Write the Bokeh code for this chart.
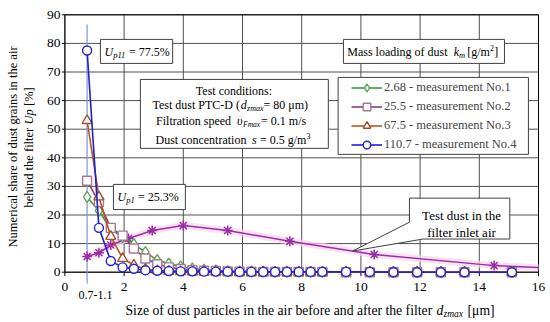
import math
from bokeh.plotting import figure
from bokeh.models import Range1d, Label, BoxAnnotation, Legend, LegendItem
from bokeh.core.properties import value
from bokeh.embed import file_html
from bokeh.resources import INLINE

# ---------------- data ----------------
size_um = [0.75, 1.15, 1.55, 1.95, 2.33, 2.72, 3.12, 3.51, 3.91, 4.31, 4.7, 5.1,
           5.5, 5.9, 6.3, 6.7, 7.1, 7.5, 7.9, 8.3, 8.7, 9.5, 10.3, 11.1, 11.9,
           12.7, 13.5, 15.1]
meas1 = [26.3, 21.5, 15.0, 12.3, 9.8, 7.0, 4.2, 3.0, 2.0, 1.3, 0.9, 0.6, 0.4,
         0.3, 0.2, 0.2, 0.1, 0.1, 0.1, 0.1, 0.1, 0.1, 0.0, 0.0, 0.0, 0.0, 0.0, 0.0]
meas2 = [32.0, 24.5, 15.5, 12.8, 8.3, 4.8, 2.8, 1.7, 1.1, 0.7, 0.5, 0.4, 0.3,
         0.2, 0.2, 0.1, 0.1, 0.1, 0.1, 0.1, 0.1, 0.0, 0.0, 0.0, 0.0, 0.0, 0.0, 0.0]
meas3 = [53.0, 26.3, 12.5, 4.8, 2.5, 1.0, 0.5, 0.3, 0.2, 0.1, 0.1, 0.1, 0.0,
         0.0, 0.0, 0.0, 0.0, 0.0, 0.0, 0.0, 0.0, 0.0, 0.0, 0.0, 0.0, 0.0, 0.0, 0.0]
meas4 = [77.5, 15.5, 3.9, 1.7, 1.2, 0.7, 0.5, 0.4, 0.3, 0.3, 0.2, 0.2, 0.2,
         0.1, 0.1, 0.1, 0.1, 0.1, 0.1, 0.1, 0.1, 0.1, 0.1, 0.0, 0.0, 0.0, 0.0, 0.0]
test_dust_x = [0.75, 1.15, 1.55, 2.15, 2.95, 4.0, 5.5, 7.6, 10.45, 14.5, 16.0]
test_dust_y = [5.5, 6.8, 9.5, 11.8, 14.6, 16.3, 14.6, 10.8, 6.2, 2.3, 1.6]
series_labels = ["2.68 - measurement No.1", "25.5 - measurement No.2",
                 "67.5 - measurement No.3", "110.7 - measurement No.4"]
x_ticks = [0, 2, 4, 6, 8, 10, 12, 14, 16]
y_ticks = [0, 10, 20, 30, 40, 50, 60, 70, 80, 90]
x_tick_labels = [str(t) for t in x_ticks]
y_tick_labels = [str(t) for t in y_ticks]
first_class_label = "0.7-1.1"
up11_value = "77.5%"
up1_value = "25.3%"

FONT = "Liberation Serif"
W, H = 550, 322
# plot area inside the canvas (pixels)
AL, AR, AT, AB = 64.4, 538.0, 14.3, 271.7
XMIN, XMAX, YMIN, YMAX = 0, 16, 0, 90
sx = (AR - AL) / (XMAX - XMIN)
sy = (AB - AT) / (YMAX - YMIN)

p = figure(width=W, height=H, output_backend="svg", toolbar_location=None,
           x_range=Range1d(XMIN - AL / sx, XMAX + (W - AR) / sx),
           y_range=Range1d(YMIN - (H - AB) / sy, YMAX + AT / sy),
           x_axis_location=None, y_axis_location=None, title=None,
           min_border=0, min_border_left=0, min_border_right=0,
           min_border_top=0, min_border_bottom=0)
p.grid.visible = False
p.background_fill_color = "white"
p.border_fill_color = "white"
p.outline_line_color = None

# grid
p.segment(x0=x_ticks, y0=[YMIN] * len(x_ticks), x1=x_ticks, y1=[YMAX] * len(x_ticks),
          line_color="#505050", line_width=1)
p.segment(x0=[XMIN] * len(y_ticks), y0=y_ticks, x1=[XMAX] * len(y_ticks), y1=y_ticks,
          line_color="#505050", line_width=1)
# tick marks
p.segment(x0=x_ticks, y0=[YMIN] * len(x_ticks), x1=x_ticks,
          y1=[YMIN - 4 / sy] * len(x_ticks), line_color="black", line_width=1)
p.segment(x0=[XMIN] * len(y_ticks), y0=y_ticks, x1=[XMIN - 3 / sx] * len(y_ticks),
          y1=y_ticks, line_color="black", line_width=1)
# plot area border
p.quad(left=[XMIN], right=[XMAX], bottom=[YMIN], top=[YMAX], fill_color=None,
       line_color="black", line_width=1)
# tick labels
p.text(x=x_ticks, y=[YMIN - 15 / sy] * len(x_ticks), text=x_tick_labels,
       text_font=value(FONT), text_font_size=value("13.5px"), text_color="black",
       text_align="center", text_baseline="middle")
p.text(x=[XMIN - 4.4 / sx] * len(y_ticks), y=y_ticks, text=y_tick_labels,
       text_font=value(FONT), text_font_size=value("13.5px"), text_color="black",
       text_align="right", text_baseline="middle")

# vertical marker of the first size class
p.segment(x0=[size_um[0]], y0=[-4], x1=[size_um[0]], y1=[86.6],
          line_color="#7b96dc", line_width=1.2)

# test dust in the inlet air
p.line(test_dust_x, test_dust_y, line_width=7, color="#fbd3f0", alpha=0.7)
p.line(test_dust_x, test_dust_y, line_width=1.5, color="#9a2fa5")
p.scatter(test_dust_x[:-1], test_dust_y[:-1], marker="asterisk", size=10,
          line_color="#9a2fa5", line_width=1.5)

styles = [
    (meas1, "#3d9a3d", "#5aa85a", "diamond", 11),
    (meas2, "#8e3d7c", "#a57898", "square", 9),
    (meas3, "#b8561e", "#a0522d", "triangle", 10),
    (meas4, "#2020cc", "#2424d0", "circle", 9),
]
items = []
for (vals, lc, mc, mk, sz), lab in zip(styles, series_labels):
    lr = p.line(size_um, vals, line_color=lc, line_width=1.6)
    sr = p.scatter(size_um, vals, marker=mk, size=sz, fill_color="white",
                   line_color=mc, line_width=1.4)
    items.append(LegendItem(label=lab, renderers=[lr, sr]))

# callout for test dust
p.patch([11.64, 15.03, 15.03, 12.1, 9.72, 11.64],
        [25.9, 25.9, 11.6, 11.6, 7.4, 17.5],
        fill_color="white", line_color="#404040", line_width=1)

BOXC = "#404040"
def box(l, r, t, b):
    p.add_layout(BoxAnnotation(left=l, right=r, top=t, bottom=b, fill_color="white",
                               fill_alpha=1, line_color=BOXC, line_width=1,
                               line_alpha=1))

def txt(x, y, s, size="12px", style="normal", align="left", dx=0, angle=0):
    p.add_layout(Label(x=x, y=y, text=s, x_offset=dx, text_font=FONT,
                       text_font_size=size, text_font_style=style,
                       text_align=align, text_baseline="middle", angle=angle,
                       text_color="black"))

# boxes
box(1.20, 3.64, 81.4, 73.0)        # Up11
box(1.64, 4.07, 30.7, 21.9)        # Up1
box(2.55, 8.90, 67.4, 43.3)        # test conditions
box(9.41, 14.85, 81.4, 73.0)       # mass loading
box(9.23, 15.66, 68.1, 41.2)       # legend

# Up11
txt(1.338, 77.0, "U", style="italic")
txt(1.338, 75.9, "p11", size="8.5px", style="italic", dx=8.7)
txt(1.338, 77.0, "= " + up11_value, dx=24.5)
# Up1
txt(1.777, 26.3, "U", style="italic")
txt(1.777, 25.2, "p1", size="8.5px", style="italic", dx=8.7)
txt(1.777, 26.3, "= " + up1_value, dx=20.5)

# test conditions
txt(5.71, 63.5, "Test conditions:", align="center")
txt(2.96, 58.3, "Test dust PTC-D (")
txt(2.96, 58.3, "d", style="italic", dx=88.3)
txt(2.96, 57.2, "zmax", size="8px", style="italic", dx=94.5)
txt(2.96, 58.3, "= 80 μm)", dx=111)
txt(3.08, 52.8, "Filtration speed")
txt(3.08, 52.8, "υ", style="italic", dx=81)
txt(3.08, 51.7, "Fmax", size="7.5px", style="italic", dx=87)
txt(3.08, 52.8, "= 0.1 m/s", dx=105)
txt(3.06, 46.05, "Dust concentration")
txt(3.06, 46.05, "s", style="italic", dx=96.5)
txt(3.06, 46.05, "= 0.5 g/m", dx=104.5)
txt(3.06, 47.5, "3", size="8px", dx=151)

# mass loading header
txt(9.54, 76.9, "Mass loading of dust")
txt(9.54, 76.9, "k", style="italic", dx=106.5)
txt(9.54, 75.8, "m", size="8.5px", style="italic", dx=111.8)
txt(9.54, 76.9, "[g/m", dx=120)
txt(9.54, 78.3, "2", size="8px", dx=142.7)
txt(9.54, 76.9, "]", dx=147)

# callout text
txt(13.4, 19.8, "Test dust in the", size="13px", align="center")
txt(13.4, 14.0, "filter inlet air", size="13px", align="center")

# extra x label
txt(1.03, -8.1, first_class_label, size="12px", align="center")

# x axis title
txt(2.047, -13.4, "Size of dust particles in the air before and after the filter",
    size="13.7px")
txt(2.047, -13.4, "d", size="13.7px", style="italic", dx=311)
txt(2.047, -14.5, "zmax", size="9.5px", style="italic", dx=318)
txt(2.047, -13.4, "[μm]", size="13.7px", dx=342)

# y axis title (rotated)
A = math.pi / 2
txt(-1.77, 43.8, "Numerical share of dust grains in the air", size="12.5px",
    align="center", angle=A)
txt(-1.196, 22.6, "behind the filter", size="12.5px", angle=A)
txt(-1.196, 51.6, "Up", size="12.5px", style="italic", angle=A)
txt(-1.196, 58.1, "[%]", size="12.5px", angle=A)

legend = Legend(items=items, location=(351, H - 153.5), padding=0,
                margin=0, spacing=0, glyph_width=31, glyph_height=19,
                label_height=19, label_standoff=2, label_text_font=FONT,
                label_text_font_size="12.5px", border_line_alpha=0,
                background_fill_alpha=0)
p.add_layout(legend)

open("out.html", "w").write(file_html(p, INLINE))
